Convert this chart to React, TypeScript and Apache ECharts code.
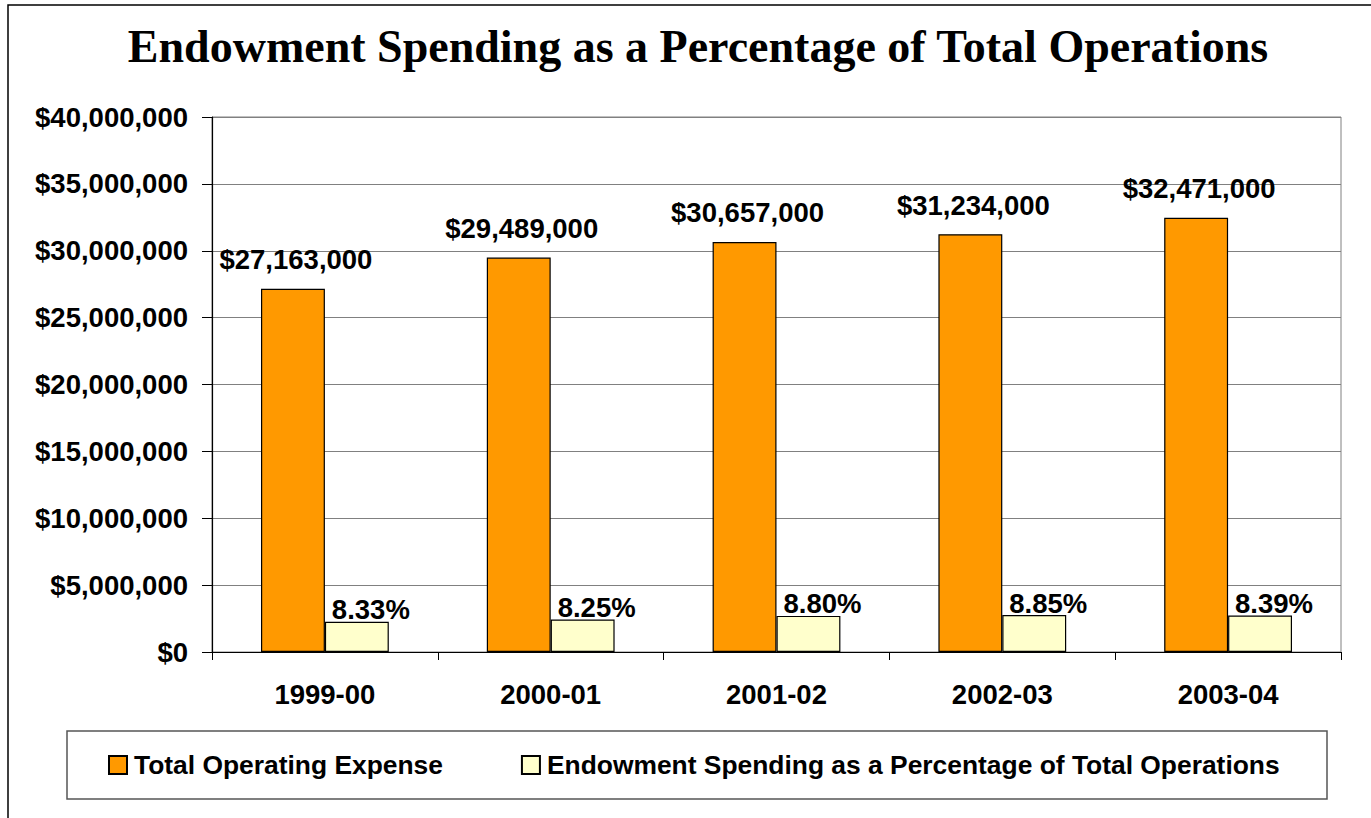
import React, { useEffect, useRef } from "react";
import * as echarts from "echarts";

const categories = ["1999-00", "2000-01", "2001-02", "2002-03", "2003-04"];
const totalOperatingExpense = [27163000, 29489000, 30657000, 31234000, 32471000];
const endowmentSpending = [2262000, 2433000, 2698000, 2764000, 2724000];
const endowmentPercentLabels = ["8.33%", "8.25%", "8.80%", "8.85%", "8.39%"];
const yTicks = { min: 0, max: 40000000, interval: 5000000 };

const fmtMoney = (v: number) =>
  "$" + Math.round(v).toString().replace(/\B(?=(\d{3})+(?!\d))/g, ",");

export default function App() {
  const ref = useRef<HTMLDivElement>(null);
  useEffect(() => {
    document.body.style.margin = "0";
    const chart = echarts.init(ref.current!, null, { renderer: "svg" });
    const font = "'Liberation Sans', Arial, sans-serif";
    const fs = 27.5;
    chart.setOption({
      animation: false,
      backgroundColor: "#ffffff",
      title: {
        text: "Endowment Spending as a Percentage of Total Operations",
        left: 693,
        top: 18,
        textAlign: "center",
        textStyle: {
          fontFamily: "'Liberation Serif', 'Times New Roman', serif",
          fontWeight: "bold",
          fontSize: 46,
          color: "#000",
        },
      },
      graphic: [
        {
          type: "rect",
          shape: { x: 8, y: 5, width: 1500, height: 1000 },
          style: { fill: "none", stroke: "#000", lineWidth: 1.5 },
          silent: true,
        },
        {
          type: "rect",
          shape: { x: 67, y: 731, width: 1260, height: 68 },
          style: { fill: "none", stroke: "#555", lineWidth: 1.5 },
          silent: true,
        },
      ],
      legend: {
        left: 108,
        top: 752,
        padding: 0,
        itemGap: 78,
        itemWidth: 18,
        itemHeight: 18,
        icon: "rect",
        textStyle: {
          fontFamily: font,
          fontWeight: "bold",
          fontSize: 26.4,
          color: "#000",
          padding: [0, 0, 0, 2],
        },
        data: ["Total Operating Expense", "Endowment Spending as a Percentage of Total Operations"],
      },
      grid: {
        left: 212,
        right: 30,
        top: 117,
        bottom: 166,
        show: true,
        borderColor: "#808080",
        borderWidth: 1,
      },
      xAxis: {
        type: "category",
        data: categories,
        axisLine: { lineStyle: { color: "#000", width: 1.2 } },
        axisTick: { show: true, length: 8, lineStyle: { color: "#000" } },
        axisLabel: {
          fontFamily: font,
          fontWeight: "bold",
          fontSize: fs,
          color: "#000",
          margin: 28,
        },
      },
      yAxis: {
        type: "value",
        min: yTicks.min,
        max: yTicks.max,
        interval: yTicks.interval,
        axisLine: { show: true, lineStyle: { color: "#000", width: 1.2 } },
        axisTick: { show: true, length: 10, lineStyle: { color: "#000" } },
        splitLine: { lineStyle: { color: "#808080", width: 1.2 } },
        axisLabel: {
          fontFamily: font,
          fontWeight: "bold",
          fontSize: fs,
          color: "#000",
          margin: 24,
          formatter: (v: number) => fmtMoney(v),
        },
      },
      series: [
        {
          name: "Total Operating Expense",
          type: "bar",
          data: totalOperatingExpense,
          barWidth: "28.3%",
          barGap: "0%",
          itemStyle: { color: "#FF9900", borderColor: "#000", borderWidth: 1.2 },
          label: {
            show: true,
            position: "top",
            distance: 15,
            offset: [3, 0],
            fontFamily: font,
            fontWeight: "bold",
            fontSize: fs,
            color: "#000",
            formatter: (p: any) => fmtMoney(p.value),
          },
        },
        {
          name: "Endowment Spending as a Percentage of Total Operations",
          type: "bar",
          data: endowmentSpending,
          barWidth: "28.3%",
          itemStyle: { color: "#FFFFCC", borderColor: "#000", borderWidth: 1.2 },
          label: {
            show: true,
            position: "top",
            distance: 0,
            offset: [14, 2],
            fontFamily: font,
            fontWeight: "bold",
            fontSize: fs,
            color: "#000",
            formatter: (p: any) => endowmentPercentLabels[p.dataIndex],
          },
        },
      ],
    });
    return () => chart.dispose();
  }, []);
  return <div ref={ref} style={{ width: 1371, height: 818 }} />;
}
